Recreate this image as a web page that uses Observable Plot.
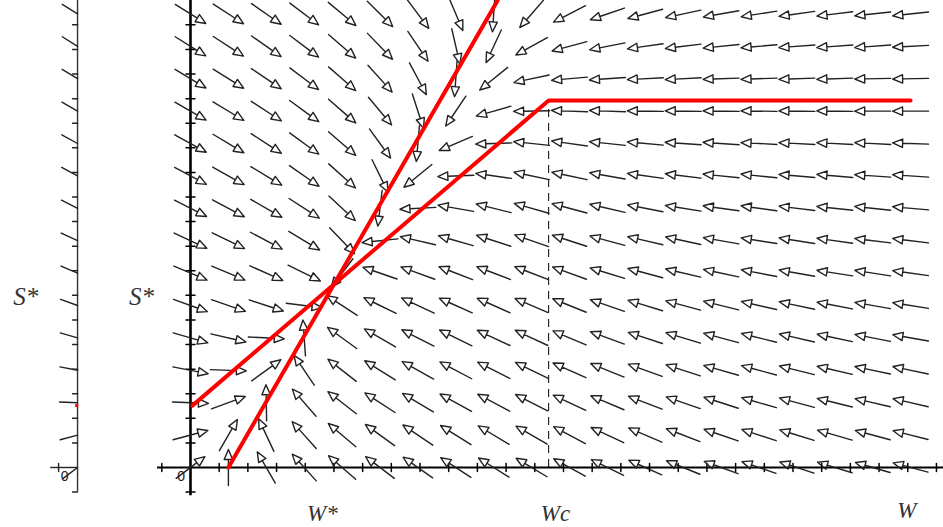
<!DOCTYPE html>
<html><head><meta charset="utf-8">
<script src="https://cdn.jsdelivr.net/npm/d3@7"></script>
<script src="https://cdn.jsdelivr.net/npm/@observablehq/plot@0.6"></script>
<style>body{margin:0;background:#fff}</style>
</head><body><div id="chart"></div>
<script>
// grid of the direction field (column index along W, row index along S)
const colW = [0,1,2,3,4,5,6,7,8,9,10,11,12,13,14,15,16,17,18,19];
const rowS = [0,1,2,3,4,5,6,7,8,9,10,11,12,13,14];
// arrow directions in degrees (0 = right, 90 = up), one list per row, bottom row first
const fieldAngles = [
  [37, 90, 120, 132, 139, 143, 145, 147, 148, 149, 151, 154, 156, 158, 160, 161, 162, 163, 164, 165],
  [15, 60, 115, 132, 140, 144, 146, 148, 149, 150, 152, 155, 157, 159, 161, 162, 163, 164, 165, 166],
  [-2, 20, 91, 131, 142, 147, 149, 151, 152, 153, 155, 157, 159, 161, 162, 164, 165, 166, 167, 167],
  [-11, -2, 36, 124, 142, 148, 151, 152, 153, 154, 156, 158, 160, 162, 164, 165, 166, 167, 168, 168],
  [-16, -13, -3, 94, 144, 150, 153, 154, 155, 155, 157, 160, 162, 163, 165, 166, 167, 168, 169, 170],
  [-20, -19, -18, -7, 147, 154, 155, 156, 156, 157, 158, 161, 163, 165, 166, 167, 168, 169, 170, 171],
  [-23, -23, -24, -26, -127, 161, 160, 159, 159, 159, 160, 163, 165, 167, 168, 169, 170, 171, 171, 172],
  [-25, -26, -28, -31, -46, -174, 167, 164, 162, 161, 162, 165, 167, 168, 170, 171, 171, 172, 173, 173],
  [-27, -28, -30, -33, -43, -97, -177, 170, 166, 164, 165, 167, 169, 171, 172, 172, 173, 174, 174, 175],
  [-28, -29, -31, -35, -42, -64, -141, -178, 172, 168, 168, 170, 172, 173, 174, 174, 175, 175, 176, 176],
  [-29, -31, -33, -36, -41, -54, -95, -157, -178, 174, 172, 174, 175, 176, 176, 177, 177, 177, 177, 178],
  [-30, -31, -33, -36, -41, -50, -72, -124, -164, -179, 178, 178, 179, 179, 179, 179, 179, 179, 180, 180],
  [-31, -32, -34, -37, -41, -48, -62, -94, -141, -168, -175, -176, -177, -177, -178, -178, -178, -178, -179, -179],
  [-32, -33, -35, -37, -41, -46, -56, -77, -115, -151, -165, -169, -172, -173, -174, -175, -176, -176, -176, -177],
  [-32, -33, -35, -37, -40, -45, -53, -67, -94, -131, -153, -161, -165, -168, -170, -171, -172, -173, -174, -174]
];
// red nullclines
const nullW_w = [1.0, 8.1];
const nullW_s = [0, 14.41];
const nullS_w = [0.05, 9.45, 19.0];
const nullS_s = [1.91, 11.33, 11.33];
// critical W (dashed line)
const Wc = 9.45;
const WcTop = 11.33;
// axis tick spacing (in grid units)
const xTickStep = 0.757, yTickStep = 0.759;
const leftAxisW = -2.98;

const fieldData = fieldAngles.flatMap((row, k) => row.map((a, i) => ({w: colW[i], s: rowS[k], angle: a})));
const col0 = fieldAngles.map((row, k) => ({w: leftAxisW, s: rowS[k], angle: row[0]}));
const nullW = nullW_w.map((w, i) => ({w, s: nullW_s[i]}));
const nullS = nullS_w.map((w, i) => ({w, s: nullS_s[i]}));
const xTicks = d3.range(-1, 27).filter(m => m !== 0).map(m => m * xTickStep);
const yTicks = d3.range(-1, 19).filter(m => m !== 0).map(m => m * yTickStep);

const hollowArrow = {draw(ctx, l) {
  const h = 10, hw = 4.2;
  ctx.moveTo(0, 0); ctx.lineTo(0, -l + h);
  ctx.moveTo(0, -l); ctx.lineTo(-hw, -l + h); ctx.lineTo(hw, -l + h); ctx.closePath();
}};
const tailHalf = {draw(ctx, l) { ctx.moveTo(0, 0); ctx.lineTo(0, -l / 2); }};
const bar = {draw(ctx, l) { ctx.moveTo(0, 0); ctx.lineTo(0, -l); }};

const serif = "'Liberation Serif', 'DejaVu Serif', serif";
const sLabels = [
  {t: "S*", w: -1.29, s: 5.25},
  {t: "S*", w: -4.35, s: 5.25}
];
const wLabels = [
  {t: "W*", w: 3.48, s: -1.42},
  {t: "Wc", w: 9.63, s: -1.42},
  {t: "W", w: 18.9, s: -1.33}
];
const zeroLabels = [
  {t: "0", w: -0.25, s: -0.28},
  {t: "0", w: -3.32, s: -0.28}
];

const chart = Plot.plot({
  width: 943, height: 527,
  marginTop: 0, marginRight: 0, marginBottom: 0, marginLeft: 0,
  x: {domain: [-5.013, 19.868], axis: null},
  y: {domain: [-1.852, 14.414], axis: null},
  style: {background: "#fff"},
  marks: [
    // left partial panel
    Plot.ruleX([leftAxisW], {y1: -0.75, y2: 14.414, stroke: "#333", strokeWidth: 1.4}),
    Plot.vector(yTicks, {x: leftAxisW, y: d => d, rotate: -90, length: 5, anchor: "start", shape: bar, stroke: "#222", strokeWidth: 1.5}),
    Plot.ruleY([0], {x1: -3.69, x2: leftAxisW, stroke: "#222", strokeWidth: 1.4}),
    Plot.vector([-3.48], {x: d => d, y: 0, rotate: 0, length: 8, anchor: "middle", shape: bar, stroke: "#222", strokeWidth: 1.4}),
    Plot.vector(col0, {x: "w", y: "s", rotate: d => 90 - d.angle, length: 36, anchor: "middle", shape: tailHalf, stroke: "#222", strokeWidth: 1.4}),
    Plot.ruleY([nullS_s[0]], {x1: leftAxisW - 0.05, x2: leftAxisW + 0.03, stroke: "red", strokeWidth: 3}),
    // main axes
    Plot.ruleX([0], {y1: -0.87, y2: 14.414, stroke: "#000", strokeWidth: 2.6}),
    Plot.ruleY([0], {x1: -0.87, x2: 19.868, stroke: "#000", strokeWidth: 2}),
    Plot.vector(yTicks, {x: 0, y: d => d, rotate: 90, length: 9, anchor: "middle", shape: bar, stroke: "#000", strokeWidth: 1.5}),
    Plot.vector(xTicks, {x: d => d, y: 0, rotate: 0, length: 8, anchor: "middle", shape: bar, stroke: "#000", strokeWidth: 1.5}),
    // dashed Wc line
    Plot.ruleX([Wc], {y1: 0, y2: WcTop, stroke: "#000", strokeWidth: 1, strokeDasharray: "8,6"}),
    // direction field
    Plot.vector(fieldData, {x: "w", y: "s", rotate: d => 90 - d.angle, length: 36, anchor: "middle", shape: hollowArrow, stroke: "#222", strokeWidth: 1.4, fill: "none"}),
    // nullclines
    Plot.line(nullW, {x: "w", y: "s", stroke: "#ff0000", strokeWidth: 4}),
    Plot.line(nullS, {x: "w", y: "s", stroke: "#ff0000", strokeWidth: 4}),
    // labels
    Plot.text(sLabels, {x: "w", y: "s", text: "t", fontSize: 25, fontFamily: serif, fontStyle: "italic", fill: "#333"}),
    Plot.text(wLabels, {x: "w", y: "s", text: "t", fontSize: 23, fontFamily: serif, fontStyle: "italic", fill: "#333"}),
    Plot.text(zeroLabels, {x: "w", y: "s", text: "t", fontSize: 14, fontFamily: "'Liberation Sans', sans-serif", fill: "#222"})
  ]
});
document.getElementById("chart").append(chart);
</script>
</body></html>
